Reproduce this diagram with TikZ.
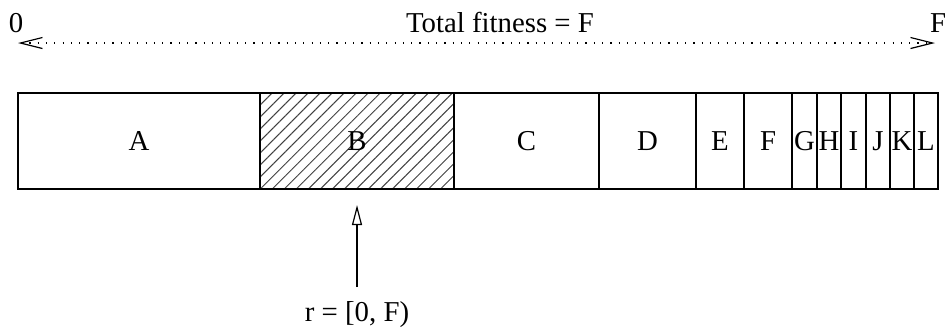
\documentclass[tikz,border=0pt]{standalone}
\usepackage{fontspec}
\setmainfont{Liberation Serif}
\usepackage{tikz}
\usetikzlibrary{arrows.meta, positioning, calc, patterns.meta}

\begin{document}
\begin{tikzpicture}[
    x=0.5pt, y=-0.5pt,
    font=\fontsize{14.4pt}{17pt}\selectfont,
    seg/.style={rectangle, draw=black, line width=0.6pt, inner sep=0pt, outer sep=0pt, minimum height=48pt},
    picked/.style={seg, pattern={Lines[angle=45, distance=4.25pt, line width=0.5pt]}, pattern color=black!75},
    lbl/.style={inner sep=0pt},
    span/.style={line width=0.6pt, dash pattern=on 0.6pt off 3.55pt, {Straight Barb[length=11pt, width=5.5pt, line width=0.6pt]}-{Straight Barb[length=11pt, width=5.5pt, line width=0.6pt]}},
    pick/.style={line width=0.6pt, -{Triangle[open, length=10pt, width=5pt, line width=0.6pt]}}
]
    \useasboundingbox (0,0) rectangle (946,329);

    % roulette wheel laid out as a strip
    \node[seg, minimum width=121pt, anchor=west] (segA) at (18,141) {A};
    \node[picked, minimum width=97pt, right=0pt of segA] (segB) {B};
    \node[seg, minimum width=72.5pt, right=0pt of segB] (segC) {C};
    \node[seg, minimum width=48.5pt, right=0pt of segC] (segD) {D};
    \node[seg, minimum width=24pt, right=0pt of segD] (segE) {E};
    \node[seg, minimum width=24pt, right=0pt of segE] (segF) {F};
    \node[seg, minimum width=12.5pt, right=0pt of segF] (segG) {G};
    \node[seg, minimum width=12pt, right=0pt of segG] (segH) {H};
    \node[seg, minimum width=12.5pt, right=0pt of segH] (segI) {I};
    \node[seg, minimum width=12pt, right=0pt of segI] (segJ) {J};
    \node[seg, minimum width=12pt, right=0pt of segJ] (segK) {K};
    \node[seg, minimum width=12pt, right=0pt of segK] (segL) {L};

    % total fitness
    \node[lbl] (zero) at (16,23) {0};
    \node[lbl] (full) at (938,23) {F};
    \node[lbl] (total) at (500,22) {Total fitness = F};
    \coordinate (lo) at (18,43);
    \coordinate (hi) at (935,43);
    \draw[span] (lo) -- (hi);

    % random pick
    \coordinate (tail) at ($(segB.south)+(0,-49pt)$);
    \node[lbl, below=7pt of tail] (rval) {r = [0, F)};
    \draw[pick] (tail) -- ([yshift=-8pt]segB.south);

\end{tikzpicture}
\end{document}
